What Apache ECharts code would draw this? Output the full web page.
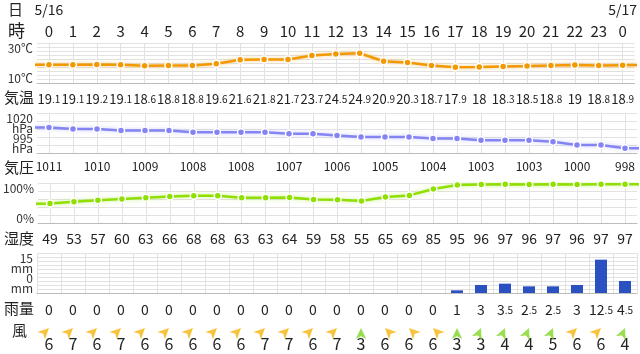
<!DOCTYPE html>
<html>
<head>
<meta charset="utf-8">
<script src="https://cdn.jsdelivr.net/npm/echarts@6/dist/echarts.min.js"></script>
<style>
html, body { margin: 0; padding: 0; background: #fff; }
#chart { width: 640px; height: 354px; }
</style>
</head>
<body>
<div id="chart"></div>
<script>
// hourly forecast, 5/16 0:00 to 5/17 0:00
var hours = [0, 1, 2, 3, 4, 5, 6, 7, 8, 9, 10, 11, 12, 13, 14, 15, 16, 17, 18, 19, 20, 21, 22, 23, 0];
var dates = ['5/16', '', '', '', '', '', '', '', '', '', '', '', '', '', '', '', '', '', '', '', '', '', '', '', '5/17'];
var temps = [19.1, 19.1, 19.2, 19.1, 18.6, 18.8, 18.8, 19.6, 21.6, 21.8, 21.7, 23.7, 24.5, 24.9, 20.9, 20.3, 18.7, 17.9, 18, 18.3, 18.5, 18.8, 19, 18.8, 18.9];
var pressures = [1011, 1010, 1010, 1009, 1009, 1009, 1008, 1008, 1008, 1008, 1007, 1007, 1006, 1005, 1005, 1005, 1004, 1004, 1003, 1003, 1003, 1002, 1000, 1000, 998];
var humidity = [49, 53, 57, 60, 63, 66, 68, 68, 63, 63, 64, 59, 58, 55, 65, 69, 85, 95, 96, 97, 96, 97, 96, 97, 97];
var rain = [0, 0, 0, 0, 0, 0, 0, 0, 0, 0, 0, 0, 0, 0, 0, 0, 0, 1, 3, 3.5, 2.5, 2.5, 3, 12.5, 4.5];
var windSpeed = [6, 7, 6, 7, 6, 6, 6, 6, 6, 7, 7, 6, 7, 3, 6, 6, 6, 3, 3, 4, 4, 5, 6, 6, 4];
// direction the wind blows from, degrees clockwise from north
var windFrom = [135, 135, 135, 135, 135, 135, 135, 135, 135, 135, 135, 135, 135, 180, 225, 225, 225, 180, 157.5, 157.5, 157.5, 157.5, 135, 135, 157.5];
// the lines run on past both ends of the day
var tempEdges = [19.1, 19.0];
var pressureEdges = [1011, 998];
var humidityEdges = [47, 97];

var FONT = '"Noto Sans CJK JP", "Noto Sans", sans-serif';
var TEXT = '#222';
var GRID_LINE = '#e2e2e2';
var AXIS_LINE = '#bcbcbc';

var chart = echarts.init(document.getElementById('chart'));

function withEdges(vals, edges) {
    var d = [[-1, edges[0]]];
    vals.forEach(function (v, i) { d.push([i, v]); });
    d.push([25, edges[1]]);
    return d;
}

function smallDecimal(v) {
    var s = String(v);
    var p = s.indexOf('.');
    if (p < 0) return '{i|' + s + '}';
    return '{i|' + s.slice(0, p) + '}{d|' + s.slice(p) + '}';
}

function decimalRich(big) {
    return {
        i: { fontSize: big, color: TEXT, fontFamily: FONT },
        d: { fontSize: 10, color: TEXT, fontFamily: FONT, padding: [1, 0, 0, 0] }
    };
}

// category axis under a panel: carries value labels and the vertical grid lines
function labelAxis(grid, data, margin, rich, formatter, centered) {
    return {
        type: 'category', gridIndex: grid, position: 'bottom', data: data,
        boundaryGap: true,
        axisLine: { show: grid < 4, onZero: false, lineStyle: { color: AXIS_LINE, width: 1 } },
        axisTick: { show: false },
        splitLine: { show: grid < 4, alignWithLabel: centered, lineStyle: { color: GRID_LINE, width: 1 } },
        axisLabel: {
            interval: 0, margin: margin, verticalAlign: 'middle',
            color: TEXT, fontFamily: FONT,
            formatter: formatter, rich: rich
        }
    };
}

function dataAxis(grid) {
    return { type: 'value', gridIndex: grid, min: -0.5, max: 24.5, show: false };
}

function lineYAxis(grid, min, max, interval) {
    return {
        type: 'value', gridIndex: grid, min: min, max: max, interval: interval,
        axisLine: { show: false }, axisTick: { show: false }, axisLabel: { show: false },
        splitLine: { show: true, lineStyle: { color: GRID_LINE, width: 1 } }
    };
}

// only one end of the range is labelled, tucked inside the panel
function edgeYAxis(grid, min, max, value, text, align) {
    return {
        type: 'value', gridIndex: grid, min: min, max: max, position: 'left',
        axisLine: { show: false }, axisTick: { show: false }, splitLine: { show: false },
        axisLabel: {
            margin: 4, fontSize: 12, lineHeight: 10, color: '#333', fontFamily: FONT,
            verticalAlign: align,
            formatter: function (v) { return Math.abs(v - value) < 1e-6 ? text : ''; }
        }
    };
}

var grids = [
    { top: 43, height: 40 },
    { top: 113, height: 40 },
    { top: 183, height: 40 },
    { top: 253, height: 40 },
    { top: 320, height: 16 }
].map(function (g) {
    return { left: 37, right: 3, top: g.top, height: g.height, containLabel: false };
});

var xAxes = [
    // 0-3 temperature panel
    labelAxis(0, temps, 16, decimalRich(13), function (v) { return smallDecimal(v); }, true),
    {
        type: 'category', gridIndex: 0, position: 'top', data: hours, boundaryGap: true,
        axisLine: { show: false }, axisTick: { show: false }, splitLine: { show: false },
        axisLabel: { interval: 0, margin: 12, verticalAlign: 'middle', fontSize: 15, color: TEXT, fontFamily: FONT }
    },
    {
        type: 'category', gridIndex: 0, position: 'top', data: dates, boundaryGap: true,
        axisLine: { show: false }, axisTick: { show: false }, splitLine: { show: false },
        axisLabel: { interval: 0, margin: 33, verticalAlign: 'middle', fontSize: 14, color: TEXT, fontFamily: FONT }
    },
    dataAxis(0),
    // 4-5 pressure panel
    labelAxis(1, pressures, 13, { p: { fontSize: 12, color: TEXT, fontFamily: FONT } },
        function (v, i) { return i % 2 === 0 ? '{p|' + Math.round(v) + '}' : ''; }, true),
    dataAxis(1),
    // 6-7 humidity panel
    labelAxis(2, humidity, 16, { h: { fontSize: 14, color: TEXT, fontFamily: FONT } },
        function (v) { return '{h|' + v + '}'; }, true),
    dataAxis(2),
    // 8 rain panel
    labelAxis(3, rain, 17, decimalRich(14), function (v) { return smallDecimal(v); }, false),
    // 9 wind row
    labelAxis(4, windSpeed, 8, { w: { fontSize: 16, color: TEXT, fontFamily: FONT } },
        function (v) { return '{w|' + v + '}'; }, false)
];

var yAxes = [
    lineYAxis(0, 10, 30, 2),
    edgeYAxis(0, 10, 30, 30, '30℃', 'top'),
    edgeYAxis(0, 10, 30, 10, '10℃', 'bottom'),
    lineYAxis(1, 995, 1020, 5),
    edgeYAxis(1, 995, 1020, 1020, '1020\nhPa', 'top'),
    edgeYAxis(1, 995, 1020, 995, '995\nhPa', 'bottom'),
    lineYAxis(2, 0, 100, 20),
    edgeYAxis(2, 0, 100, 100, '100%', 'top'),
    edgeYAxis(2, 0, 100, 0, '0%', 'bottom'),
    lineYAxis(3, 0, 15, 1.5),
    edgeYAxis(3, 0, 15, 15, '15\nmm', 'top'),
    edgeYAxis(3, 0, 15, 0, '0\nmm', 'bottom'),
    { type: 'value', gridIndex: 4, min: 0, max: 1, show: false }
];

function lineSeries(xi, yi, data, color, glow) {
    return {
        type: 'line', xAxisIndex: xi, yAxisIndex: yi, data: data,
        symbol: 'circle', symbolSize: 7, clip: true, silent: true,
        lineStyle: { color: color, width: 2.5, shadowColor: glow, shadowBlur: 4 },
        itemStyle: { color: color, borderColor: '#fff', borderWidth: 1.5 }
    };
}

// arrow points where the wind is going
var windArrows = windSpeed.map(function (s, i) {
    return {
        value: [i, 0.5],
        symbolRotate: windFrom[i] + 180,
        itemStyle: { color: s >= 6 ? '#f6b40e' : '#80d626' }
    };
});

var option = {
    animation: false,
    backgroundColor: '#fff',
    textStyle: { fontFamily: FONT },
    grid: grids,
    xAxis: xAxes,
    yAxis: yAxes,
    graphic: [
        { type: 'text', left: 8, top: 2, style: { text: '日', fontSize: 15, fill: TEXT, fontFamily: FONT } },
        { type: 'text', left: 8, top: 22, style: { text: '時', fontSize: 17, fill: TEXT, fontFamily: FONT } },
        { type: 'text', left: 4, top: 90, style: { text: '気温', fontSize: 15, fill: TEXT, fontFamily: FONT } },
        { type: 'text', left: 4, top: 160, style: { text: '気圧', fontSize: 15, fill: TEXT, fontFamily: FONT } },
        { type: 'text', left: 4, top: 231, style: { text: '湿度', fontSize: 15, fill: TEXT, fontFamily: FONT } },
        { type: 'text', left: 4, top: 301, style: { text: '雨量', fontSize: 15, fill: TEXT, fontFamily: FONT } },
        { type: 'text', left: 12, top: 323, style: { text: '風', fontSize: 15, fill: TEXT, fontFamily: FONT } }
    ],
    series: [
        lineSeries(3, 0, withEdges(temps, tempEdges), '#f39800', 'rgba(243,152,0,0.45)'),
        lineSeries(5, 3, withEdges(pressures, pressureEdges), '#8484f5', 'rgba(132,132,245,0.4)'),
        lineSeries(7, 6, withEdges(humidity, humidityEdges), '#8fe000', 'rgba(143,224,0,0.45)'),
        {
            type: 'bar', xAxisIndex: 8, yAxisIndex: 9, data: rain,
            barWidth: 12, silent: true,
            itemStyle: { color: '#2b50c2' }
        },
        {
            type: 'scatter', xAxisIndex: 9, yAxisIndex: 12, data: windArrows,
            symbol: 'arrow', symbolSize: [8, 11], silent: true
        }
    ]
};

chart.setOption(option);
</script>
</body>
</html>
